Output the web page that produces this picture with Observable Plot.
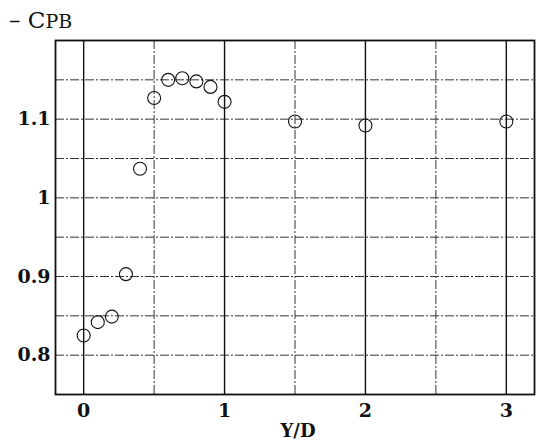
<!DOCTYPE html>
<html>
<head>
<meta charset="utf-8">
<script src="https://cdn.jsdelivr.net/npm/d3@7"></script>
<script src="https://cdn.jsdelivr.net/npm/@observablehq/plot@0.6"></script>
<style>
  html, body { margin: 0; padding: 0; background: #fff; }
  #wrap { position: relative; width: 537px; height: 444px; }
  #title { position: absolute; left: 9px; top: 7px; font-family: "DejaVu Serif", serif; font-size: 23px; color: #111; white-space: nowrap; }
  #title .sub { font-size: 19px; }
</style>
</head>
<body>
<div id="wrap">
  <div id="title">– C<span class="sub">PB</span></div>
</div>
<script>
const yd  = [0, 0.1, 0.2, 0.3, 0.4, 0.5, 0.6, 0.7, 0.8, 0.9, 1.0, 1.5, 2.0, 3.0];
const cpb = [0.825, 0.842, 0.849, 0.903, 1.037, 1.127, 1.150, 1.152, 1.148, 1.141, 1.122, 1.097, 1.092, 1.097];

const xTicks = [0, 1, 2, 3];
const xHalfGrid = [0.5, 1.5, 2.5];
const yGrid = [0.8, 0.85, 0.9, 0.95, 1.0, 1.05, 1.1, 1.15];
const yTicks = [0.8, 0.9, 1.0, 1.1];
const yTickLabels = ["0.8", "0.9", "1", "1.1"];

const data = yd.map((x, i) => ({x, y: cpb[i]}));

const chart = Plot.plot({
  width: 537,
  height: 444,
  marginLeft: 55,
  marginRight: 3,
  marginTop: 40,
  marginBottom: 50,
  style: { fontFamily: "DejaVu Serif, serif", fontSize: "19px", fontWeight: "bold", color: "#111", background: "transparent" },
  x: { domain: [-0.2, 3.2] },
  y: { domain: [0.75, 1.2] },
  marks: [
    Plot.ruleY(yGrid, { stroke: "#333", strokeWidth: 1, strokeDasharray: "9,2,2,2" }),
    Plot.ruleX(xHalfGrid, { stroke: "#333", strokeWidth: 1, strokeDasharray: "9,2,2,2" }),
    Plot.ruleX(xTicks, { stroke: "#111", strokeWidth: 1.4 }),
    Plot.frame({ stroke: "#111", strokeWidth: 1.8 }),
    Plot.dot(data, { x: "x", y: "y", r: 6.5, stroke: "#111", strokeWidth: 1.1, fill: "none" }),
    Plot.axisX({ ticks: xTicks, tickSize: 0, tickPadding: 9, tickFormat: d => String(d), label: null }),
    Plot.axisY({ ticks: yTicks, tickSize: 0, tickPadding: 5, tickFormat: (d, i) => yTickLabels[i], label: null }),
    Plot.text(["Y/D"], { frameAnchor: "bottom", dx: 3, dy: 42, fontSize: 18, fontWeight: "bold" })
  ]
});
document.getElementById("wrap").appendChild(chart);
</script>
</body>
</html>
